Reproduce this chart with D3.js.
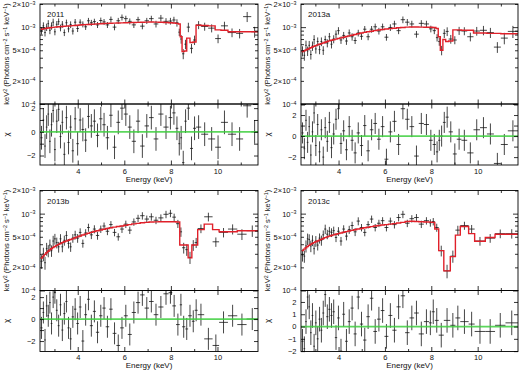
<!DOCTYPE html>
<html>
<head>
<meta charset="utf-8">
<script src="https://cdn.jsdelivr.net/npm/d3@7"></script>
<style>
body { margin: 0; background: #fff; }
text { font-family: "Liberation Sans", Arial, sans-serif; fill: #111; }
</style>
</head>
<body>
<svg id="chart" width="520" height="370"></svg>
<script>
// energy bin edges (keV) shared below 7.9 keV
var loEdges = [2.40,2.49,2.56,2.63,2.70,2.77,2.84,2.91,2.98,3.06,3.14,3.22,3.30,3.38,3.47,3.56,3.65,3.74,3.84,3.94,
    4.05,4.16,4.28,4.40,4.52,4.65,4.78,4.92,5.06,5.20,5.35,5.50,5.66,5.82,5.98,6.15,6.32,6.50,6.68,6.87,7.06,7.26,7.46,7.68,7.90];

// 2011  (model and flux in 1e-4 keV^2 Photons cm^-2 s^-1 keV^-1, err in %)
var hiEdges2011 = [7.90,8.06,8.20,8.32,8.40,8.48,8.58,8.68,8.82,8.95,9.08,9.30,9.60,9.90,10.15,10.45,10.80,11.10,11.45,11.74];
var model2011 = [9.40,9.50,9.58,9.66,9.74,9.82,9.88,9.94,10.0,10.05,10.1,10.15,10.2,10.25,10.3,10.35,10.4,10.45,10.52,10.6,
    10.66,10.72,10.78,10.84,10.9,10.96,11.02,11.08,11.13,11.18,11.23,11.28,11.32,11.36,11.4,11.45,11.5,11.54,11.58,11.62,11.64,11.62,11.58,11.5,
    11.4,11.3,11.2,11.0,7.5,4.8,4.9,7.2,6.3,6.4,10.6,10.5,10.4,9.2,9.1,8.7,8.7,8.7,8.7];
var flux2011 = [9.0,10.4,8.5,10.0,11.1,9.1,10.4,11.6,8.7,10.9,11.8,9.8,10.9,8.5,11.4,9.5,10.8,8.9,11.6,9.6,
    11.6,10.9,10.1,12.1,11.4,11.8,10.7,12.2,11.7,10.7,12.6,10.0,12.1,13.4,12.9,11.9,10.7,12.5,10.3,12.1,12.9,11.0,13.1,11.9,
    12.0,12.4,11.4,8.6,7.0,4.5,6.0,10.0,5.3,6.8,10.7,10.2,9.7,7.1,10.4,8.5,8.3,13.7,8.7];
var chi2011 = [-0.5,1.0,-1.2,0.4,1.5,-0.8,0.6,1.8,-1.5,0.9,1.9,-0.4,0.8,-1.9,1.2,-0.9,0.4,-1.6,1.1,-1.0,
    1.0,0.2,-0.7,1.3,0.5,0.9,-0.3,1.1,0.6,-0.5,1.4,-1.3,0.8,2.0,1.5,0.4,-0.8,0.9,-1.2,0.5,1.2,-0.6,1.5,0.4,
    1.2,1.6,0.3,-1.0,-0.5,-2.6,0.9,2.0,-1.4,0.3,0.4,-0.2,-0.6,-1.3,0.8,-0.2,-0.6,2.2,0.0];
var err2011 = [11,11,11,11,11,11,11,11,10,10,10,10,10,10,10,10,10,10,10,10,9,9,9,9,9,9,9,9,9,9,9,9,9,9,9,9,9,9,9,9,9,10,10,10,
    10,10,11,11,13,15,14,14,14,14,12,12,12,13,13,13,14,15,16];

// 2013a
var hiEdges2013a = [7.90,8.06,8.20,8.30,8.39,8.50,8.62,8.75,8.93,9.10,9.30,9.55,9.82,10.10,10.40,10.70,11.00,11.30,11.74];
var model2013a = [4.80,4.92,5.04,5.16,5.28,5.40,5.52,5.63,5.75,5.87,5.99,6.11,6.23,6.36,6.50,6.62,6.74,6.86,6.99,7.12,
    7.26,7.40,7.55,7.70,7.85,8.02,8.20,8.38,8.54,8.70,8.86,9.02,9.16,9.30,9.44,9.56,9.68,9.80,9.90,10.0,10.05,10.05,10.0,9.95,
    9.95,9.9,9.6,7.5,5.0,6.9,6.5,6.6,9.2,9.2,9.1,9.1,8.4,8.4,8.3,8.3,8.2,8.2];
var flux2013a = [4.9,4.3,5.8,4.9,5.8,4.4,5.7,6.9,5.2,6.5,5.1,6.5,5.0,6.9,6.2,7.5,6.0,7.0,8.1,9.0,
    6.8,7.8,6.6,8.4,7.5,6.7,8.4,7.6,9.4,7.5,9.4,10.1,8.9,10.1,7.4,9.9,11.0,9.0,12.5,11.6,11.0,8.1,11.2,11.0,
    9.5,9.0,7.3,6.5,5.0,8.3,8.8,7.0,6.8,9.0,8.9,7.5,8.9,9.1,8.5,5.5,7.2,8.8];
var chi2013a = [0.3,-1.2,1.5,-0.6,0.9,-1.8,0.4,2.2,-0.9,1.1,-1.5,0.6,-2.0,0.8,-0.5,1.3,-1.1,0.2,1.6,2.6,
    -0.7,0.5,-1.3,0.9,-0.4,-1.6,0.3,-0.9,1.0,-1.4,0.6,1.2,-0.3,0.9,-2.2,0.4,1.4,-0.8,2.6,1.6,0.9,-1.9,1.2,1.1,
    -0.4,-0.8,-1.5,-0.4,0.0,1.3,1.8,0.4,-1.7,-0.3,-0.4,-1.6,0.6,0.8,0.2,-2.6,-0.8,0.5];
var err2013a = [15,15,15,14,14,14,14,14,13,13,13,13,13,12,12,12,12,12,12,11,11,11,11,11,11,10,10,10,10,10,10,10,10,10,10,10,10,10,10,10,10,10,10,10,
    10,10,11,12,14,13,13,13,12,12,12,13,13,14,15,16,17,18];

// 2013b
var hiEdges2013b = [7.90,8.06,8.22,8.38,8.48,8.62,8.74,8.90,9.02,9.15,9.43,9.79,10.07,10.45,10.85,11.25,11.74];
var model2013b = [2.65,2.80,2.95,3.10,3.24,3.38,3.50,3.62,3.74,3.86,3.98,4.09,4.20,4.30,4.40,4.50,4.60,4.70,4.85,4.98,
    5.12,5.27,5.41,5.55,5.70,5.85,6.00,6.13,6.26,6.40,6.55,6.68,6.80,6.92,7.05,7.20,7.35,7.48,7.60,7.70,7.78,7.82,7.84,7.84,
    7.84,7.84,7.8,3.9,3.9,3.9,2.66,3.9,3.9,6.2,7.3,6.2,5.8,5.8,6.0,6.0];
var flux2013b = [2.4,3.0,2.3,3.5,3.3,3.9,3.3,4.4,4.7,4.2,3.7,4.7,3.7,4.5,5.2,4.1,3.7,4.8,5.3,4.8,
    5.7,4.1,5.6,6.6,5.3,6.3,5.2,6.3,6.9,5.9,7.2,5.7,5.0,6.3,7.3,6.1,7.8,8.7,9.4,8.5,9.1,8.2,8.8,9.8,
    10.1,9.0,7.4,5.8,3.6,3.4,2.7,3.9,4.2,6.4,9.1,4.3,5.7,6.3,5.4,6.0];
var chi2013b = [-0.8,0.6,-1.9,1.2,0.3,1.5,-0.4,2.0,2.4,0.8,-0.6,1.3,-1.0,0.5,1.6,-0.8,-1.8,0.2,0.9,-0.4,
    1.1,-2.0,0.4,1.8,-0.6,0.7,-1.2,0.3,1.0,-0.7,0.9,-1.3,-2.4,-0.8,0.3,-1.4,0.6,1.5,2.2,1.0,1.6,0.4,1.1,2.3,
    2.4,1.2,-0.5,1.3,-0.7,-0.9,0.3,-0.2,0.8,0.4,-1.8,-2.4,-0.3,0.3,-0.5,0.0];
var err2013b = [20,20,19,19,18,18,17,17,16,16,16,15,15,15,14,14,14,13,13,13,13,12,12,12,12,12,12,11,11,11,11,11,11,11,11,11,11,11,11,11,11,11,11,11,
    11,11,12,14,16,17,18,16,15,13,13,14,14,15,16,17];

// 2013c
var hiEdges2013c = [7.90,8.02,8.15,8.32,8.54,8.82,9.04,9.25,9.61,9.87,10.33,10.75,11.20,11.74];
var model2013c = [3.30,3.45,3.60,3.74,3.87,3.99,4.10,4.20,4.30,4.41,4.52,4.63,4.75,4.87,4.99,5.10,5.20,5.30,5.40,5.50,
    5.61,5.72,5.83,5.94,6.05,6.17,6.30,6.42,6.54,6.66,6.78,6.90,7.00,7.10,7.20,7.30,7.42,7.55,7.70,7.90,7.95,7.90,7.85,7.80,
    7.75,7.7,6.3,3.3,1.8,2.76,5.25,6.8,5.5,4.37,4.9,5.4,5.4];
var flux2013c = [2.9,2.8,3.8,4.7,4.6,3.8,4.5,3.5,4.4,3.9,4.8,4.5,5.3,6.3,5.4,5.9,5.7,6.0,4.9,5.9,
    4.4,6.3,5.1,6.2,7.0,5.8,8.0,6.6,5.7,7.2,8.5,6.6,7.5,8.1,6.6,8.0,7.2,8.9,9.8,7.5,8.6,8.9,7.3,8.1,
    7.6,7.9,6.6,3.3,1.8,2.8,6.1,7.0,6.3,4.4,4.8,5.5,5.5];
var chi2013c = [-1.2,-1.8,0.4,2.4,1.6,-0.5,0.9,-1.6,0.3,-1.0,0.6,-0.3,1.1,2.6,0.8,1.4,0.9,1.2,-0.9,0.7,
    -2.0,1.0,-1.2,0.4,1.5,-0.6,2.4,0.2,-1.1,0.8,2.3,-0.4,0.6,1.3,-0.8,0.9,-0.3,1.6,2.5,-0.5,0.7,1.1,-0.6,0.4,
    0.3,1.2,0.5,-0.7,0.5,0.1,0.7,0.4,0.2,-0.4,-0.4,0.1,0.3];
var err2013c = [18,18,18,17,17,17,16,16,16,15,15,15,14,14,14,14,13,13,13,13,13,12,12,12,12,12,12,11,11,11,11,11,11,11,11,11,11,11,11,11,11,11,11,11,
    11,11,12,16,20,18,14,12,13,13,13,13,14];

var xTicks = [3, 4, 5, 6, 7, 8, 9, 10, 11];
var specTicks = [1e-4, 2e-4, 3e-4, 4e-4, 5e-4, 6e-4, 7e-4, 8e-4, 9e-4, 1e-3, 2e-3];
var specLabels = {'0.002': ['2×10', '−3'], '0.001': ['10', '−3'], '0.0005': ['5×10', '−4'], '0.0002': ['2×10', '−4'], '0.0001': ['10', '−4']};

var panels = [
    {label: '2011', hi: hiEdges2011, model: model2011, flux: flux2011, chi: chi2011, err: err2011,
        chiDomain: [-2.8, 2.35], chiLabels: [-2, 0, 2], left: 40, right: 258, top: 4},
    {label: '2013a', hi: hiEdges2013a, model: model2013a, flux: flux2013a, chi: chi2013a, err: err2013a,
        chiDomain: [-2.75, 3.05], chiLabels: [-2, 0, 2], left: 301, right: 518, top: 4},
    {label: '2013b', hi: hiEdges2013b, model: model2013b, flux: flux2013b, chi: chi2013b, err: err2013b,
        chiDomain: [-2.95, 2.6], chiLabels: [-2, 0, 2], left: 40, right: 258, top: 190.5},
    {label: '2013c', hi: hiEdges2013c, model: model2013c, flux: flux2013c, chi: chi2013c, err: err2013c,
        chiDomain: [-2.03, 2.93], chiLabels: [-2, -1, 0, 1, 2], left: 301, right: 518, top: 190.5}
];

var specH = 100,
    resH = 61,
    fs = 7.5;

var svg = d3.select('#chart');

function withSup(text, parts, size) {
    text.text(null);
    var up = false;
    parts.forEach(function(p) {
        var t = text.append('tspan').text(p[0]);
        if (p[1]) {
            t.attr('dy', -2.3).style('font-size', (size * 0.7) + 'px');
            up = true;
        } else if (up) {
            t.attr('dy', 2.3);
            up = false;
        }
    });
}

function cleanAxis(g) {
    g.select('.domain').remove();
    g.selectAll('.tick line').attr('stroke', '#000').attr('stroke-width', 0.8);
    g.selectAll('text').style('font-size', fs + 'px').attr('fill', '#111');
}

panels.forEach(function(p, pi) {
    var edges = loEdges.concat(p.hi.slice(1));
    var bins = d3.range(edges.length - 1).map(function(i) {
        var f = p.flux[i] * 1e-4;
        return {lo: edges[i], hi: edges[i + 1], mid: (edges[i] + edges[i + 1]) / 2,
            model: p.model[i] * 1e-4, flux: f, err: f * p.err[i] / 100, chi: p.chi[i]};
    });

    var specBottom = p.top + specH,
        resBottom = specBottom + resH;

    var x = d3.scaleLinear().domain([2.38, 11.74]).range([p.left, p.right]);
    var y = d3.scaleLog().domain([1e-4, 2e-3]).range([specBottom, p.top]);
    var r = d3.scaleLinear().domain(p.chiDomain).range([resBottom, specBottom]);

    var g = svg.append('g');

    g.append('clipPath').attr('id', 'cs' + pi).append('rect')
        .attr('x', p.left).attr('y', p.top).attr('width', p.right - p.left).attr('height', specH);
    g.append('clipPath').attr('id', 'cr' + pi).append('rect')
        .attr('x', p.left).attr('y', specBottom).attr('width', p.right - p.left).attr('height', resH);

    // spectrum: data crosses
    var spec = g.append('g').attr('clip-path', 'url(#cs' + pi + ')')
        .attr('stroke', '#161616').attr('stroke-width', 0.8);
    spec.selectAll('.xe').data(bins).enter().append('line')
        .attr('x1', function(d) { return x(d.lo); })
        .attr('x2', function(d) { return x(d.hi); })
        .attr('y1', function(d) { return y(d.flux); })
        .attr('y2', function(d) { return y(d.flux); });
    spec.selectAll('.ye').data(bins).enter().append('line')
        .attr('x1', function(d) { return x(d.mid); })
        .attr('x2', function(d) { return x(d.mid); })
        .attr('y1', function(d) { return y(d.flux - d.err); })
        .attr('y2', function(d) { return y(d.flux + d.err); });

    // model as a histogram
    var last = bins[bins.length - 1];
    var steps = bins.map(function(d) { return [d.lo, d.model]; }).concat([[last.hi, last.model]]);
    g.append('path')
        .datum(steps)
        .attr('clip-path', 'url(#cs' + pi + ')')
        .attr('fill', 'none')
        .attr('stroke', '#e0202a')
        .attr('stroke-width', 1.4)
        .attr('d', d3.line()
            .x(function(d) { return x(d[0]); })
            .y(function(d) { return y(d[1]); })
            .curve(d3.curveStepAfter));

    // residuals
    var res = g.append('g').attr('clip-path', 'url(#cr' + pi + ')')
        .attr('stroke', '#161616').attr('stroke-width', 0.8);
    res.selectAll('.xe').data(bins).enter().append('line')
        .attr('x1', function(d) { return x(d.lo); })
        .attr('x2', function(d) { return x(d.hi); })
        .attr('y1', function(d) { return r(d.chi); })
        .attr('y2', function(d) { return r(d.chi); });
    res.selectAll('.ye').data(bins).enter().append('line')
        .attr('x1', function(d) { return x(d.mid); })
        .attr('x2', function(d) { return x(d.mid); })
        .attr('y1', function(d) { return r(d.chi - 1); })
        .attr('y2', function(d) { return r(d.chi + 1); });

    g.append('line')
        .attr('x1', p.left).attr('x2', p.right)
        .attr('y1', r(0)).attr('y2', r(0))
        .attr('stroke', '#3fcf3f').attr('stroke-opacity', 0.85).attr('stroke-width', 1.8);

    // frames
    g.append('rect').attr('x', p.left).attr('y', p.top).attr('width', p.right - p.left).attr('height', specH)
        .attr('fill', 'none').attr('stroke', '#000').attr('stroke-width', 0.9);
    g.append('rect').attr('x', p.left).attr('y', specBottom).attr('width', p.right - p.left).attr('height', resH)
        .attr('fill', 'none').attr('stroke', '#000').attr('stroke-width', 0.9);

    // x ticks on every horizontal edge
    function xLen(d) { return d % 2 === 0 ? 4.5 : 2.5; }
    [[p.top, 1], [specBottom, -1], [specBottom, 1], [resBottom, -1]].forEach(function(e, k) {
        var ax = g.append('g').attr('transform', 'translate(0,' + e[0] + ')')
            .call((k === 3 ? d3.axisBottom(x) : d3.axisTop(x))
                .tickValues(xTicks).tickSizeOuter(0).tickSize(-4).tickPadding(3.6)
                .tickFormat(function(d) { return k === 3 && d % 2 === 0 ? d : ''; }))
            .call(cleanAxis);
        ax.selectAll('.tick line').attr('y2', function(d) { return e[1] * xLen(d); });
    });

    // spectrum y ticks
    var sl = g.append('g').attr('transform', 'translate(' + p.left + ',0)')
        .call(d3.axisLeft(y).tickValues(specTicks).tickSize(-4).tickPadding(4.5).tickFormat(''))
        .call(cleanAxis);
    sl.selectAll('.tick line').attr('x2', function(d) { return d === 1e-4 || d === 1e-3 ? 5 : 3; });
    sl.selectAll('.tick text').each(function(d) {
        var lab = specLabels[String(d)];
        if (lab) withSup(d3.select(this), [[lab[0], false], [lab[1], true]], fs);
    });
    var sr = g.append('g').attr('transform', 'translate(' + p.right + ',0)')
        .call(d3.axisRight(y).tickValues(specTicks).tickSize(-4).tickFormat(''))
        .call(cleanAxis);
    sr.selectAll('.tick line').attr('x2', function(d) { return d === 1e-4 || d === 1e-3 ? -5 : -3; });

    // residual y ticks
    var chiTicks = d3.range(Math.ceil(p.chiDomain[0]), Math.floor(p.chiDomain[1]) + 1);
    g.append('g').attr('transform', 'translate(' + p.left + ',0)')
        .call(d3.axisLeft(r).tickValues(chiTicks).tickSize(-4).tickPadding(4.5)
            .tickFormat(function(d) { return p.chiLabels.indexOf(d) >= 0 ? d3.format('d')(d) : ''; }))
        .call(cleanAxis);
    g.append('g').attr('transform', 'translate(' + p.right + ',0)')
        .call(d3.axisRight(r).tickValues(chiTicks).tickSize(-4).tickFormat(''))
        .call(cleanAxis);

    // titles
    g.append('text')
        .attr('x', p.left + 7).attr('y', p.top + 13)
        .style('font-size', '8px')
        .text(p.label);

    g.append('text')
        .attr('x', (p.left + p.right) / 2).attr('y', resBottom + 16.5)
        .attr('text-anchor', 'middle')
        .style('font-size', '8px')
        .text('Energy (keV)');

    var yt = g.append('text')
        .attr('transform', 'translate(' + (p.left - 31) + ',' + (p.top + specH / 2) + ') rotate(-90)')
        .attr('text-anchor', 'middle')
        .style('font-size', fs + 'px');
    withSup(yt, [['keV', false], ['2', true], [' (Photons cm', false], ['−2', true], [' s', false], ['−1', true],
        [' keV', false], ['−1', true], [')', false]], fs);

    g.append('text')
        .attr('transform', 'translate(' + (p.left - 31) + ',' + (specBottom + resH / 2) + ') rotate(-90)')
        .attr('text-anchor', 'middle')
        .style('font-size', '8px')
        .text('χ');
});
</script>
</body>
</html>
